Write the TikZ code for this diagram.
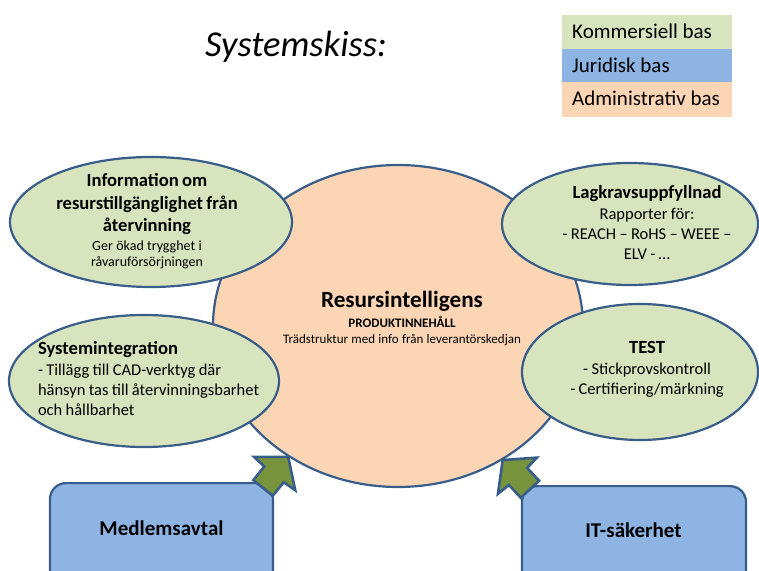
\documentclass[tikz,border=0pt]{standalone}
\usepackage{fontspec}
\setmainfont{Carlito}
\usetikzlibrary{shapes.geometric}

\definecolor{outline}{HTML}{385D8A}
\definecolor{leafgreen}{HTML}{D7E4BD}
\definecolor{lawblue}{HTML}{8EB4E3}
\definecolor{adminorange}{HTML}{FCD5B5}
\definecolor{arrowgreen}{HTML}{77933C}

% text sizes used inside the bubbles
\newcommand\bubblehead{\fontsize{18.6pt}{22.5pt}\selectfont\bfseries}
\newcommand\bubblebody{\fontsize{16.5pt}{20pt}\selectfont\mdseries}
\newcommand\bubblesmall{\fontsize{14pt}{16pt}\selectfont\mdseries}

\begin{document}
\begin{tikzpicture}[x=1pt,y=1pt,
  bubble/.style={ellipse, draw=outline, line width=2.2pt, fill=leafgreen, inner sep=0pt},
  corebubble/.style={ellipse, draw=outline, line width=2.2pt, fill=adminorange, inner sep=0pt},
  basebox/.style={rectangle, rounded corners=16pt, draw=outline, line width=2.2pt, fill=lawblue, inner sep=0pt, anchor=north},
  keyswatch/.style={rectangle, inner sep=0pt, minimum width=170pt, anchor=north west},
  keytext/.style={anchor=base west, inner sep=0pt, font=\fontsize{21pt}{24pt}\selectfont},
  bubbletext/.style={inner sep=0pt, outer sep=0pt},
  boxtext/.style={inner sep=0pt, anchor=base, font=\fontsize{21pt}{24pt}\selectfont\bfseries},
  blockarrow/.style={draw=outline, line width=2.6pt, fill=arrowgreen, line join=miter}
]
\useasboundingbox (0,0) rectangle (759,570);
\clip (0,0) rectangle (759,570);

% title
\node[bubbletext, anchor=base, font=\fontsize{36.5pt}{40pt}\selectfont\itshape] (title) at (296,513) {Systemskiss:};

% colour key
\node[keyswatch, fill=leafgreen, minimum height=34pt] (keycom) at (562,555) {};
\node[keyswatch, fill=lawblue, minimum height=33pt] (keyjur) at (562,521) {};
\node[keyswatch, fill=adminorange, minimum height=35pt] (keyadm) at (562,488) {};
\node[keytext] (keycomtext) at (572,531) {Kommersiell bas};
\node[keytext] (keyjurtext) at (572,497) {Juridisk bas};
\node[keytext] (keyadmtext) at (572,464) {Administrativ bas};

% central resource bubble
\node[corebubble, minimum width=370pt, minimum height=322pt] (core) at (398,244) {};
\node[bubbletext, text width=320pt, align=center, anchor=base] (coretext) at (402,262)
  {\fontsize{23.2pt}{28pt}\selectfont\bfseries Resursintelligens\par
   \fontsize{13pt}{20pt}\selectfont PRODUKTINNEHÅLL\par
   \fontsize{13pt}{16pt}\selectfont\mdseries Trädstruktur med info från leverantörskedjan\par};

% surrounding bubbles
\node[bubble, minimum width=282pt, minimum height=130pt] (info) at (151,348) {};
\node[bubble, minimum width=256pt, minimum height=122pt] (lag) at (630,346) {};
\node[bubble, minimum width=270pt, minimum height=132pt] (sysint) at (144,189) {};
\node[bubble, minimum width=236pt, minimum height=136pt] (test) at (640,198) {};

\node[bubbletext, text width=260pt, align=center, anchor=base] (infotext) at (147,383)
  {\bubblehead Information om\\ resurstillgänglighet från\\ återvinning\par\vspace{3pt}
   \bubblesmall Ger ökad trygghet i\\ råvaruförsörjningen\par};
\node[bubbletext, text width=220pt, align=center, anchor=base] (lagtext) at (647,371)
  {\bubblehead Lagkravsuppfyllnad\par\vspace{1pt}
   \bubblebody Rapporter för:\\ - REACH – RoHS – WEEE –\\ ELV - …\par};
\node[bubbletext, text width=250pt, align=left, anchor=base west] (sysinttext) at (38,215.7)
  {\bubblehead Systemintegration\par\vspace{1pt}
   \bubblebody - Tillägg till CAD-verktyg där\\ hänsyn tas till återvinningsbarhet\\ och hållbarhet\par};
\node[bubbletext, text width=220pt, align=center, anchor=base] (testtext) at (647,216)
  {\bubblehead TEST\par\vspace{1pt}
   \bubblebody - Stickprovskontroll\\ - Certifiering/märkning\par};

% foundation boxes
\node[basebox, minimum width=223pt, minimum height=140pt] (avtal) at (161.5,88) {};
\node[basebox, minimum width=224pt, minimum height=140pt] (itsak) at (634,85) {};
\node[boxtext] (avtaltext) at (161.5,35) {Medlemsavtal};
\node[boxtext] (itsaktext) at (633.5,33) {IT-säkerhet};

% block arrows from the boxes into the central bubble
\begin{scope}[shift={(core.230)}, rotate=51]
  \draw[blockarrow] (0,0) -- (-21.5,26.5) -- (-22.5,12.5) -- (-40,12.5)
    -- (-40,-12.5) -- (-22.5,-12.5) -- (-21.5,-26.5) -- cycle;
\end{scope}
\begin{scope}[shift={(core.308)}, rotate=133]
  \draw[blockarrow] (0,0) -- (-21.5,26.5) -- (-22.5,12.5) -- (-40,12.5)
    -- (-40,-12.5) -- (-22.5,-12.5) -- (-21.5,-26.5) -- cycle;
\end{scope}
\end{tikzpicture}
\end{document}
